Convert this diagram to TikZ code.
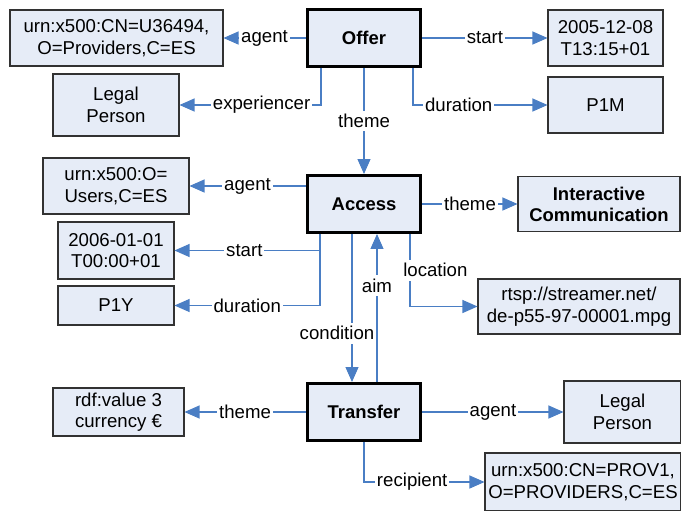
\documentclass[tikz,border=0pt]{standalone}
\usepackage{fontspec}
\setmainfont{Liberation Sans}
\usetikzlibrary{arrows.meta}
\definecolor{boxfill}{RGB}{230,236,247}
\definecolor{boxline}{RGB}{50,50,50}
\definecolor{relblue}{RGB}{74,126,196}
\begin{document}
\begin{tikzpicture}[
	x=0.02cm, y=-0.02cm,
	every node/.style={font=\fontsize{10.6}{12.2}\selectfont},
	box/.style={draw=boxline, fill=boxfill, line width=0.6pt, align=center, inner sep=0pt},
	core/.style={box, draw=black, line width=1.7pt, font=\fontsize{10.5}{12}\selectfont\bfseries, minimum width=2.28cm, minimum height=1.14cm},
	rel/.style={draw=relblue, line width=0.6pt, -{Triangle[length=0.3cm, width=0.26cm]}},
	lbl/.style={fill=white, inner xsep=1pt, inner ysep=2pt}
	]
	\useasboundingbox (0,0) rectangle (681,511);
	% --- events ---
	\node[core] (offer) at (364,38) {Offer};
	\node[core] (access) at (364,204) {Access};
	\node[core] (transfer) at (364,412) {Transfer};
	% --- Offer ---
	\node[box, minimum width=4.26cm, minimum height=1.12cm] (agentO) at (116.5,38) {urn:x500:CN=U36494,\\O=Providers,C=ES};
	\node[box, minimum width=2.52cm, minimum height=1.24cm] (expO) at (116,105) {Legal\\Person};
	\node[box, minimum width=2.3cm, minimum height=1.12cm] (startO) at (605.5,38) {2005-12-08\\T13:15+01};
	\node[box, minimum width=2.3cm, minimum height=1.12cm] (durO) at (605.5,105) {P1M};
	\draw[rel] (offer) -- node[lbl]{agent} (agentO);
	\draw[rel] ([xshift=-0.86cm]offer.south) |- node[lbl, pos=0.71]{experiencer} (expO);
	\draw[rel] (offer) -- node[lbl]{start} (startO);
	\draw[rel] ([xshift=0.98cm]offer.south) |- node[lbl, pos=0.67]{duration} (durO);
	\draw[rel] (offer) -- node[lbl]{theme} (access);
	% --- Access ---
	\node[box, minimum width=2.92cm, minimum height=1.12cm] (agentA) at (116,186) {urn:x500:O=\\Users,C=ES};
	\node[box, minimum width=2.32cm, minimum height=1.14cm] (startA) at (116,250.5) {2006-01-01\\T00:00+01};
	\node[box, minimum width=2.32cm, minimum height=0.78cm] (durA) at (116,305.5) {P1Y};
	\node[box, minimum width=3.24cm, minimum height=1.1cm, font=\fontsize{10.5}{12}\selectfont\bfseries] (themeA) at (599,204) {Interactive\\Communication};
	\node[box, minimum width=4.04cm, minimum height=1.1cm] (locA) at (579,306.5) {rtsp://streamer.net/\\de-p55-97-00001.mpg};
	\draw[rel] (access.west |- agentA) -- node[lbl]{agent} (agentA);
	\draw[rel] ([xshift=-0.88cm]access.south) |- node[lbl, pos=0.76]{start} (startA);
	\draw[rel] ([xshift=-0.88cm]access.south) |- node[lbl, pos=0.75]{duration} (durA);
	\draw[rel] (access) -- node[lbl]{theme} (themeA);
	\draw[rel] ([xshift=0.92cm]access.south) |- node[lbl, pos=0.25, anchor=west, xshift=-0.18cm]{location} (locA);
	\draw[rel] ([xshift=-0.24cm]access.south) -- node[lbl, pos=0.67, xshift=-0.3cm]{condition} ([xshift=-0.24cm]transfer.north);
	\draw[rel] ([xshift=0.26cm]transfer.north) -- node[lbl, pos=0.65]{aim} ([xshift=0.26cm]access.south);
	% --- Transfer ---
	\node[box, minimum width=2.62cm, minimum height=0.96cm] (themeT) at (118.5,412) {rdf:value 3\\currency €};
	\node[box, minimum width=2.34cm, minimum height=1.24cm] (agentT) at (622.5,412) {Legal\\Person};
	\node[box, minimum width=3.92cm, minimum height=1.16cm] (recT) at (583,482) {urn:x500:CN=PROV1,\\O=PROVIDERS,C=ES};
	\draw[rel] (transfer) -- node[lbl]{theme} (themeT);
	\draw[rel] (transfer) -- node[lbl]{agent} (agentT);
	\draw[rel] (transfer.south) |- node[lbl, pos=0.7]{recipient} (recT);
\end{tikzpicture}
\end{document}
